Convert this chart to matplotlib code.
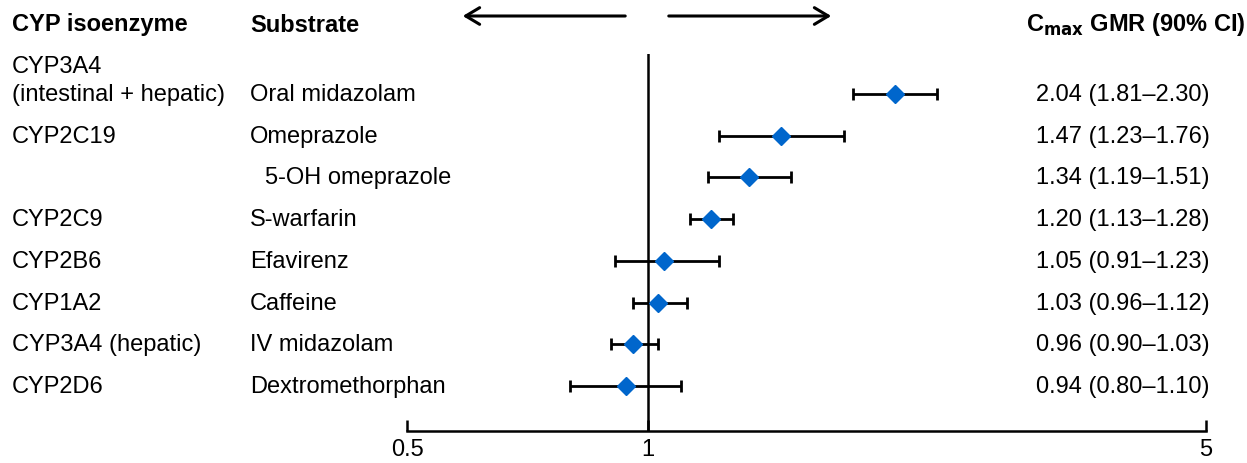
import numpy as np
import matplotlib.pyplot as plt
from matplotlib.patches import FancyArrowPatch
from matplotlib.transforms import blended_transform_factory

plt.rcParams['font.family'] = ['Liberation Sans', 'DejaVu Sans']

# Данные
isoenzymes = ['(intestinal + hepatic)', 'CYP2C19', '', 'CYP2C9', 'CYP2B6',
              'CYP1A2', 'CYP3A4 (hepatic)', 'CYP2D6']
substrates = ['Oral midazolam', 'Omeprazole', '5-OH omeprazole', 'S-warfarin',
              'Efavirenz', 'Caffeine', 'IV midazolam', 'Dextromethorphan']
gmr = [2.04, 1.47, 1.34, 1.20, 1.05, 1.03, 0.96, 0.94]
ci_low = [1.81, 1.23, 1.19, 1.13, 0.91, 0.96, 0.90, 0.80]
ci_high = [2.30, 1.76, 1.51, 1.28, 1.23, 1.12, 1.03, 1.10]
x_ticks = [0.5, 1, 5]
x_tick_labels = ['0.5', '1', '5']

W, H = 1247, 464
fig = plt.figure(figsize=(W / 100, H / 100), dpi=100)
ax = fig.add_axes([407 / W, 1 - 432 / H, (1206 - 407) / W, (432 - 55) / H])

y = np.arange(len(gmr))
gmr_a = np.array(gmr)
err = [gmr_a - np.array(ci_low), np.array(ci_high) - gmr_a]

ax.errorbar(gmr, y, xerr=err, fmt='none', ecolor='black', elinewidth=2,
            capsize=4, capthick=2, zorder=2)
ax.plot(gmr, y, 'D', color='#0066CC', markersize=9, zorder=3)
ax.axvline(1, color='black', linewidth=1.8, zorder=1)

ax.set_xscale('log')
ax.set_xlim(0.5, 5)
ax.set_ylim(7 + 45 / 41.7, -40 / 41.7)
ax.set_xticks(x_ticks)
ax.set_xticklabels(x_tick_labels)
ax.minorticks_off()
ax.set_yticks([])
for s in ['left', 'right', 'top']:
    ax.spines[s].set_visible(False)
ax.spines['bottom'].set_linewidth(1.8)
ax.tick_params(axis='x', direction='in', length=8, width=1.8, labelsize=17, pad=5)

# Колонки текста
tr = blended_transform_factory(fig.transFigure, ax.transData)
fs = 17
ax.text(12 / W, y[0] - 0.68, 'CYP3A4', transform=tr, fontsize=fs, ha='left', va='center')
for i in range(len(y)):
    ax.text(12 / W, y[i], isoenzymes[i], transform=tr, fontsize=fs, ha='left', va='center')
    sx = 265 / W if substrates[i].startswith('5-OH') else 250 / W
    ax.text(sx, y[i], substrates[i], transform=tr, fontsize=fs, ha='left', va='center')
    label = f'{gmr[i]:.2f} ({ci_low[i]:.2f}\u2013{ci_high[i]:.2f})'
    ax.text(1210 / W, y[i], label, transform=tr, fontsize=fs, ha='right', va='center')

# Заголовки
hy = 1 - 25 / H
fig.text(12 / W, hy, 'CYP isoenzyme', fontsize=fs, fontweight='bold', va='center')
fig.text(250 / W, hy, 'Substrate', fontsize=fs, fontweight='bold', va='center')
fig.text(1245 / W, hy, r'C$_{\mathbf{max}}$ GMR (90% CI)', fontsize=fs,
         fontweight='bold', va='center', ha='right')

# Стрелки
ay = 1 - 17 / H
for x0, x1 in [(628, 460), (666, 834)]:
    fig.add_artist(FancyArrowPatch(
        (x0 / W, ay), (x1 / W, ay), transform=fig.transFigure,
        arrowstyle='->,head_length=10,head_width=6', mutation_scale=1,
        color='black', linewidth=2.2))

fig.savefig('out.png', dpi=100)
